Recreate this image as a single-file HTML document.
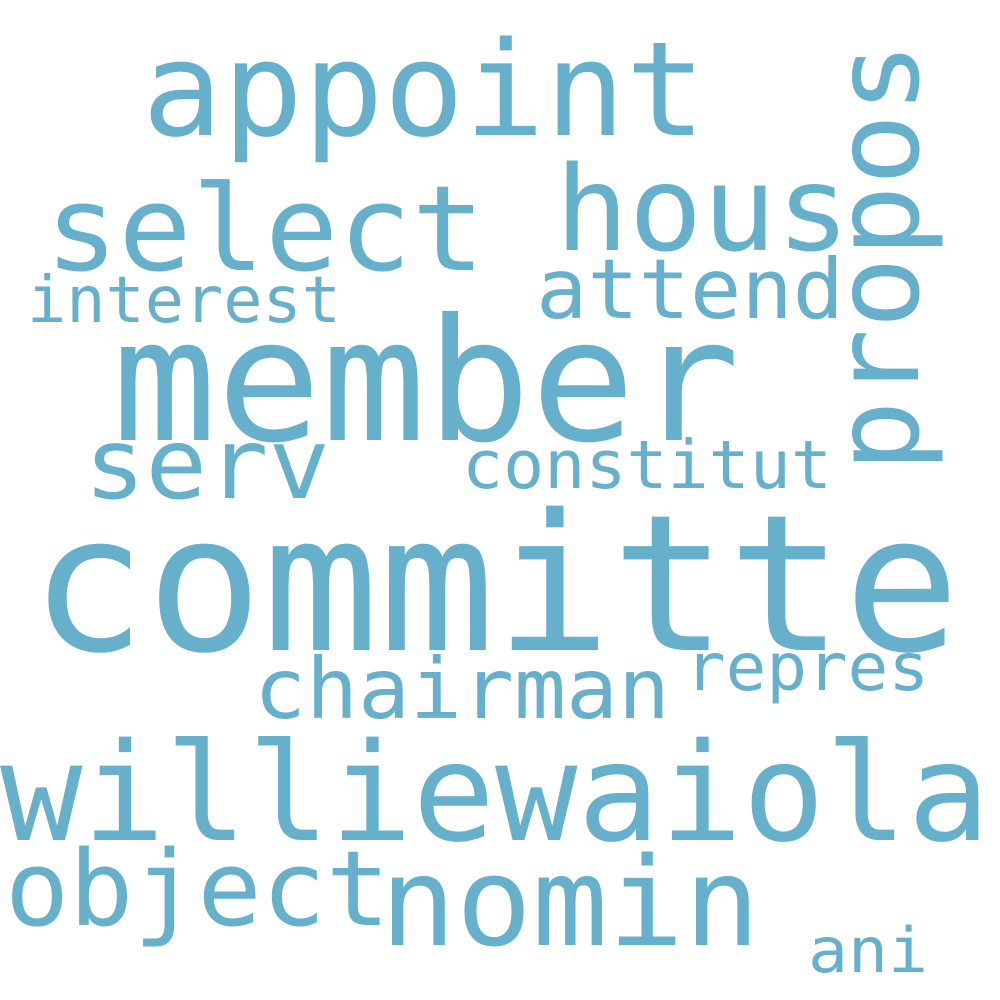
<!DOCTYPE html>
<html><head><meta charset="utf-8"><style>
html,body{margin:0;padding:0;background:#fff;}
svg{display:block;}
text{font-family:"DejaVu Sans Mono","Liberation Mono",monospace;fill:#67b0cc;}
</style></head><body>
<svg width="1000" height="1000" viewBox="0 0 1000 1000" xmlns="http://www.w3.org/2000/svg">
<text x="30" y="650" font-size="190" textLength="930" lengthAdjust="spacingAndGlyphs">committe</text>
<text x="112" y="440" font-size="170" textLength="628" lengthAdjust="spacingAndGlyphs">member</text>
<text x="0" y="840" font-size="136" textLength="990" lengthAdjust="spacingAndGlyphs">williewaiola</text>
<text x="142" y="135" font-size="131" textLength="564" lengthAdjust="spacingAndGlyphs">appoint</text>
<text x="45" y="270" font-size="119" textLength="440" lengthAdjust="spacingAndGlyphs">select</text>
<text x="555" y="250" font-size="118" textLength="295" lengthAdjust="spacingAndGlyphs">hous</text>
<g transform="translate(918,472) rotate(-90)"><text x="0" y="0" font-size="118" textLength="430" lengthAdjust="spacingAndGlyphs">propos</text></g>
<text x="536" y="318" font-size="83" textLength="308" lengthAdjust="spacingAndGlyphs">attend</text>
<text x="27" y="322" font-size="64" textLength="314" lengthAdjust="spacingAndGlyphs">interest</text>
<text x="84" y="498" font-size="98" textLength="246" lengthAdjust="spacingAndGlyphs">serv</text>
<text x="462" y="488" font-size="67" textLength="370" lengthAdjust="spacingAndGlyphs">constitut</text>
<text x="254" y="718" font-size="84" textLength="416" lengthAdjust="spacingAndGlyphs">chairman</text>
<text x="685" y="690" font-size="66" textLength="244" lengthAdjust="spacingAndGlyphs">repres</text>
<text x="5" y="925" font-size="104" textLength="385" lengthAdjust="spacingAndGlyphs">object</text>
<text x="380" y="945" font-size="123" textLength="380" lengthAdjust="spacingAndGlyphs">nomin</text>
<text x="808" y="972" font-size="62" textLength="120" lengthAdjust="spacingAndGlyphs">ani</text>
</svg>
</body></html>
